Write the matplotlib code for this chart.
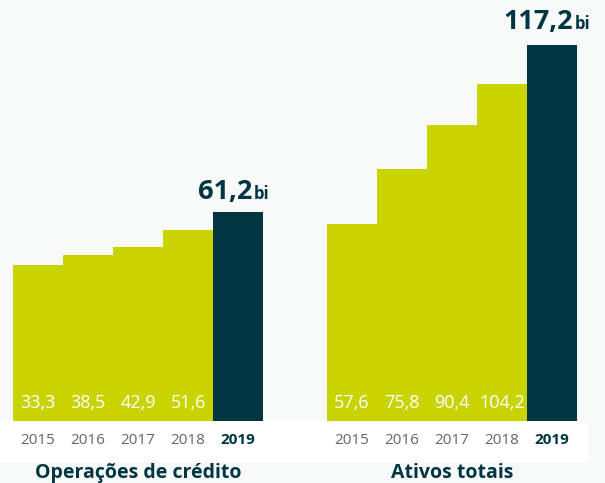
import matplotlib
matplotlib.use("Agg")
import matplotlib.pyplot as plt
from matplotlib.patches import Rectangle

years = ["2015", "2016", "2017", "2018", "2019"]
credito = [33.3, 38.5, 42.9, 51.6, 61.2]
ativos = [57.6, 75.8, 90.4, 104.2, 117.2]
titles = ["Operações de crédito", "Ativos totais"]
unit = "bi"

LIME = "#c9d300"
DARK = "#003641"
BG = "#f8f9f9"
GRAY = "#666666"
FONT = ["Open Sans", "DejaVu Sans"]

W, H = 605, 483
fig = plt.figure(figsize=(W / 100, H / 100), dpi=100, facecolor=BG)

# white band behind the year labels
fig.patches.append(Rectangle((0, (H - 462) / H), 588 / W, 41 / H,
                             transform=fig.transFigure, facecolor="white",
                             edgecolor="none", zorder=-5))

def fmt(v):
    return f"{v:.1f}".replace(".", ",")

panels = [
    (credito, 13, (-50.1, 174.6), 14, 13),
    (ativos, 327, (-7.85, 132.1), 21, 15.5),
]

base_px = 421
for (vals, x0, ylim, dx, dy), title in zip(panels, titles):
    ax = fig.add_axes([x0 / W, (H - base_px) / H, 250 / W, base_px / H])
    ax.set_facecolor("none")
    ax.set_xlim(-0.5, 4.5)
    ax.set_ylim(*ylim)
    ax.axis("off")
    n = len(vals)
    colors = [LIME] * (n - 1) + [DARK]
    ax.bar(range(n), [v - ylim[0] for v in vals], bottom=ylim[0], width=1.0,
           color=colors, edgecolor="none")
    for i, (v, y) in enumerate(zip(vals, years)):
        if i < n - 1:
            ax.annotate(fmt(v), xy=(i, 0), xycoords=("data", "axes fraction"),
                        xytext=(0, 12.7), textcoords="offset pixels",
                        ha="center", va="baseline", color="white",
                        fontsize=13, family=FONT)
        last = i == n - 1
        ax.annotate(y, xy=(i, 0), xycoords=("data", "axes fraction"),
                    xytext=(0, -23), textcoords="offset pixels",
                    ha="center", va="baseline",
                    color=DARK if last else GRAY,
                    fontweight="bold" if last else "normal",
                    fontsize=11, family=FONT, annotation_clip=False)
    # big label for the last bar
    num = ax.annotate(fmt(vals[-1]), xy=(n - 1, vals[-1]), xycoords="data",
                      xytext=(dx, dy), textcoords="offset pixels",
                      ha="right", va="baseline", color=DARK,
                      fontsize=19.5, fontweight="bold", family=FONT,
                      annotation_clip=False)
    ax.annotate(unit, xy=(1, vals[-1]), xycoords=(num, "data"),
                xytext=(2, dy), textcoords="offset pixels",
                ha="left", va="baseline", color=DARK,
                fontsize=12, fontweight="bold", family=FONT,
                annotation_clip=False)
    fig.text((x0 + 125) / W, 5.3 / H, title, ha="center", va="baseline",
             color=DARK, fontsize=14, fontweight="bold", family=FONT)

fig.savefig("out.png", dpi=100, facecolor=BG)
